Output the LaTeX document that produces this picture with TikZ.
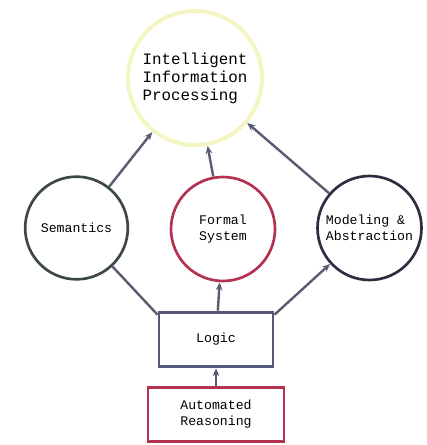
\documentclass[tikz,border=0pt]{standalone}
\usepackage{fontspec}
\setmainfont{Liberation Mono}
\usetikzlibrary{arrows.meta}
\definecolor{linec}{RGB}{88,92,110}
\definecolor{yel}{RGB}{245,245,195}
\definecolor{semc}{RGB}{60,72,68}
\definecolor{crim}{RGB}{180,50,80}
\definecolor{navy}{RGB}{45,45,65}
\definecolor{boxc}{RGB}{85,88,120}
\begin{document}
\begin{tikzpicture}[x=0.75pt,y=-0.75pt,
 circ/.style={circle,draw,line width=2pt,inner sep=0pt,font=\fontsize{9.9}{12}\selectfont,align=center},
 boxn/.style={rectangle,draw,line width=2.2pt,inner sep=0pt,font=\fontsize{9.9}{12}\selectfont,align=center},
 conn/.style={draw=linec,line width=1.8pt},
 arr/.style={conn,-{Stealth[length=6pt,width=5pt]}}]
\path[use as bounding box,fill=white] (0,0) rectangle (427,445);
\node[circ,draw=yel,line width=3pt,minimum size=100.5pt,font=\fontsize{11.9}{13.5}\selectfont,align=left] (iip) at (195,78) {Intelligent\\Information\\Processing};
\node[circ,draw=semc,minimum size=77pt] (sem) at (76.5,228) {Semantics};
\node[circ,draw=crim,minimum size=78pt] (fs) at (223,229) {Formal\\System};
\node[circ,draw=navy,minimum size=78pt,align=left] (mod) at (369.5,228) {Modeling \&\\Abstraction};
\node[boxn,draw=boxc,minimum width=85.5pt,minimum height=41pt] (logic) at (216,339.5) {Logic};
\node[boxn,draw=crim,minimum width=102pt,minimum height=40pt] (ar) at (216,414.5) {Automated\\Reasoning};
\draw[arr] (sem) -- (iip);
\draw[arr] (fs) -- (iip);
\draw[arr] (mod) -- (iip);
\draw[conn] ([yshift=-3pt]logic.north west) -- (sem);
\draw[arr] ([yshift=-3pt]logic.north east) -- (mod);
\draw[arr] (logic) -- (fs);
\draw[arr] (ar) -- (logic);
\end{tikzpicture}
\end{document}
